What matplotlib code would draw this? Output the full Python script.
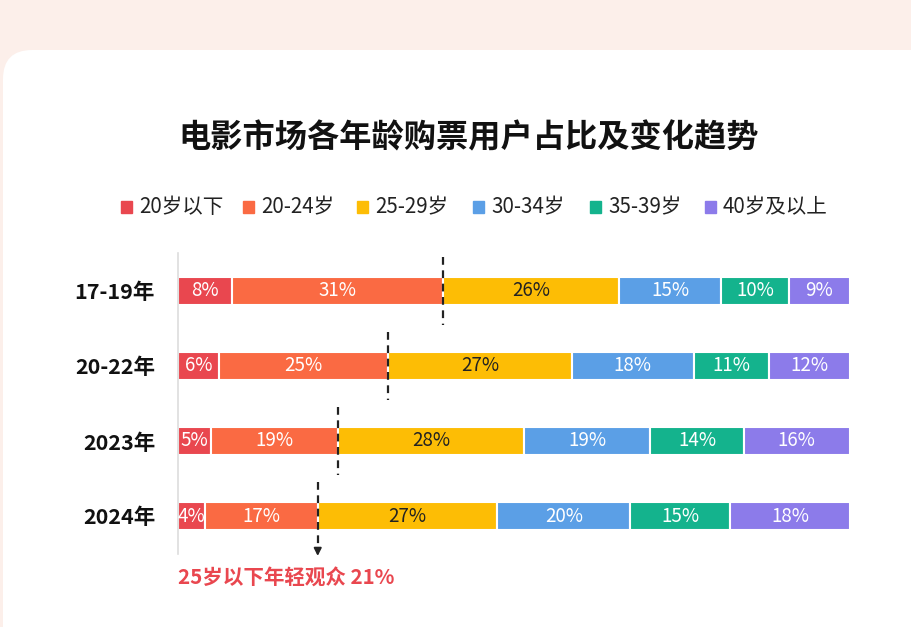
import matplotlib.pyplot as plt
from matplotlib.patches import FancyBboxPatch

plt.rcParams['font.family'] = ['Noto Sans CJK SC', 'DejaVu Sans']

# data
periods = ["17-19年", "20-22年", "2023年", "2024年"]
groups = ["20岁以下", "20-24岁", "25-29岁", "30-34岁", "35-39岁", "40岁及以上"]
under20 = [8, 6, 5, 4]
age20_24 = [31, 25, 19, 17]
age25_29 = [26, 27, 28, 27]
age30_34 = [15, 18, 19, 20]
age35_39 = [10, 11, 14, 15]
over40 = [9, 12, 16, 18]
colors = ["#E9474F", "#FA6A43", "#FDBD05", "#5B9FE6", "#14B38D", "#8C7BEA"]
text_colors = ["white", "white", "#222222", "white", "white", "white"]
note = "25岁以下年轻观众 21%"

series = [under20, age20_24, age25_29, age30_34, age35_39, over40]

W, H = 911, 627
fig = plt.figure(figsize=(W / 100, H / 100), dpi=100)
fig.patch.set_facecolor("#FCEFEA")

# white rounded card
card = FancyBboxPatch((3 / W, -0.2), (W - 3) / W + 0.05, 1.2 - 50 / H,
                      boxstyle="round,pad=0,rounding_size=0.032",
                      transform=fig.transFigure, facecolor="white",
                      edgecolor="none", mutation_aspect=W / H, zorder=-5)
fig.patches.append(card)

fig.text(469 / W, 1 - 138 / H, "电影市场各年龄购票用户占比及变化趋势",
         ha="center", va="center", fontsize=23.2, fontweight="bold", color="#111111")

# legend row
leg_x = [121, 243, 357, 473, 590, 705]
for lx, g, c in zip(leg_x, groups, colors):
    fig.patches.append(plt.Rectangle((lx / W, 1 - 213 / H), 11 / W, 12 / H,
                                     transform=fig.transFigure, color=c))
    fig.text((lx + 18) / W, 1 - 207 / H, g, ha="left", va="center",
             fontsize=14.8, color="#222222")

ax = fig.add_axes([178 / W, 1 - 553.5 / H, 672 / W, 300 / H])
ax.set_xlim(0, 1)
ax.set_ylim(3.5, -0.5)
ax.patch.set_alpha(0)

for i in range(len(periods)):
    vals = [s[i] for s in series]
    tot = sum(vals)
    left = 0
    for j, v in enumerate(vals):
        w = v / tot
        ax.barh(i, w, left=left, height=0.38, color=colors[j],
                edgecolor="white", linewidth=1.5)
        ax.text(left + w / 2, i, f"{v}%", ha="center", va="center",
                fontsize=13.5, color=text_colors[j])
        left += w
    xd = (vals[0] + vals[1]) / tot
    ax.plot([xd, xd], [i - 0.45, i + 0.45], ls=(0, (3.5, 2.5)), color="#222222", lw=1.6)
    if i == len(periods) - 1:
        ax.annotate("", xy=(xd, i + 0.57), xytext=(xd, i + 0.42),
                    arrowprops=dict(arrowstyle="-|>", color="#222222", lw=1.4,
                                    mutation_scale=11), annotation_clip=False)

ax.set_yticks(range(len(periods)))
ax.set_yticklabels(periods, fontsize=15.5, fontweight="bold", color="#111111")
ax.tick_params(axis="y", length=0, pad=16.5)
ax.set_xticks([])
for s in ["top", "right", "bottom"]:
    ax.spines[s].set_visible(False)
ax.spines["left"].set_color("#DDDDDD")
ax.spines["left"].set_linewidth(1.2)

fig.text(178 / W, 1 - 578 / H, note, ha="left", va="center", fontsize=14.8,
         fontweight="bold", color="#E9474F")

fig.savefig("out.png", dpi=100)
